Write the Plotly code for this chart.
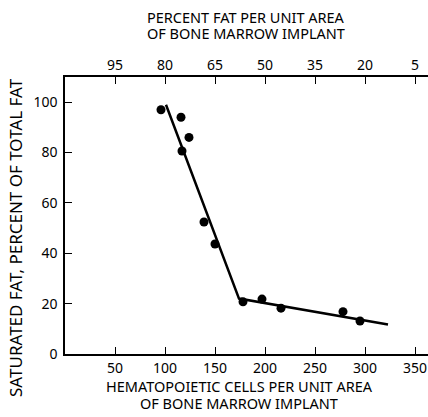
import plotly.graph_objects as go

# Data
cells = [96, 116, 117, 124, 139, 150, 178, 197, 216, 278, 295]
sat_fat = [97, 94, 80.6, 86, 52.4, 43.7, 20.7, 21.8, 18.2, 16.8, 13.1]

fit_x = [101, 174, 323]
fit_y = [99, 22, 11.7]

bottom_ticks = [50, 100, 150, 200, 250, 300, 350]
top_tick_labels = ["95", "80", "65", "50", "35", "20", "5"]
y_ticks = [0, 20, 40, 60, 80, 100]

FONT = "Noto Sans"

fig = go.Figure()
fig.add_trace(go.Scatter(x=fit_x, y=fit_y, mode="lines",
                         line=dict(color="black", width=2.5), showlegend=False))
fig.add_trace(go.Scatter(x=cells, y=sat_fat, mode="markers",
                         marker=dict(color="black", size=9), showlegend=False))
# invisible trace to activate top axis
fig.add_trace(go.Scatter(x=[None], y=[None], xaxis="x2", showlegend=False))

axis_common = dict(showgrid=False, zeroline=False, showline=True, linecolor="black",
                   linewidth=1.5, ticks="inside", ticklen=7, tickwidth=1.2,
                   automargin=False,
                   tickcolor="black", tickfont=dict(family=FONT, size=14, color="black"))

fig.update_layout(
    width=428, height=417,
    margin=dict(l=65, r=0, t=77, b=63),
    paper_bgcolor="white", plot_bgcolor="white",
    xaxis=dict(range=[0, 363], tickvals=bottom_ticks, ticklabelstandoff=0, **axis_common),
    xaxis2=dict(range=[0, 363], overlaying="x", side="top", tickvals=bottom_ticks,
                ticktext=top_tick_labels, ticklabelstandoff=0, **axis_common),
    yaxis=dict(range=[0, 110], tickvals=y_ticks, ticklabelstandoff=3, **axis_common),
    showlegend=False,
)

def ann(text, x, y, size, angle=0):
    fig.add_annotation(text=text, xref="paper", yref="paper", x=x, y=y,
                       xanchor="center", yanchor="middle", showarrow=False,
                       textangle=angle, font=dict(family=FONT, size=size, color="black"))

W, H = 363, 277
def px(xp):
    return (xp - 65) / W
def py(yp):
    return (354 - yp) / H

ann("PERCENT FAT PER UNIT AREA", px(246), py(17), 14.5)
ann("OF BONE MARROW IMPLANT", px(246), py(33), 14.5)
ann("HEMATOPOIETIC CELLS PER UNIT AREA", px(239), py(386), 14.5)
ann("OF BONE MARROW IMPLANT", px(239), py(403), 14.5)
ann("SATURATED FAT, PERCENT OF TOTAL FAT", px(15), py(238), 17, angle=-90)

fig.write_html("out.html", config={"displayModeBar": False},
               post_script="document.body.style.margin='0';document.body.style.overflow='hidden';")
